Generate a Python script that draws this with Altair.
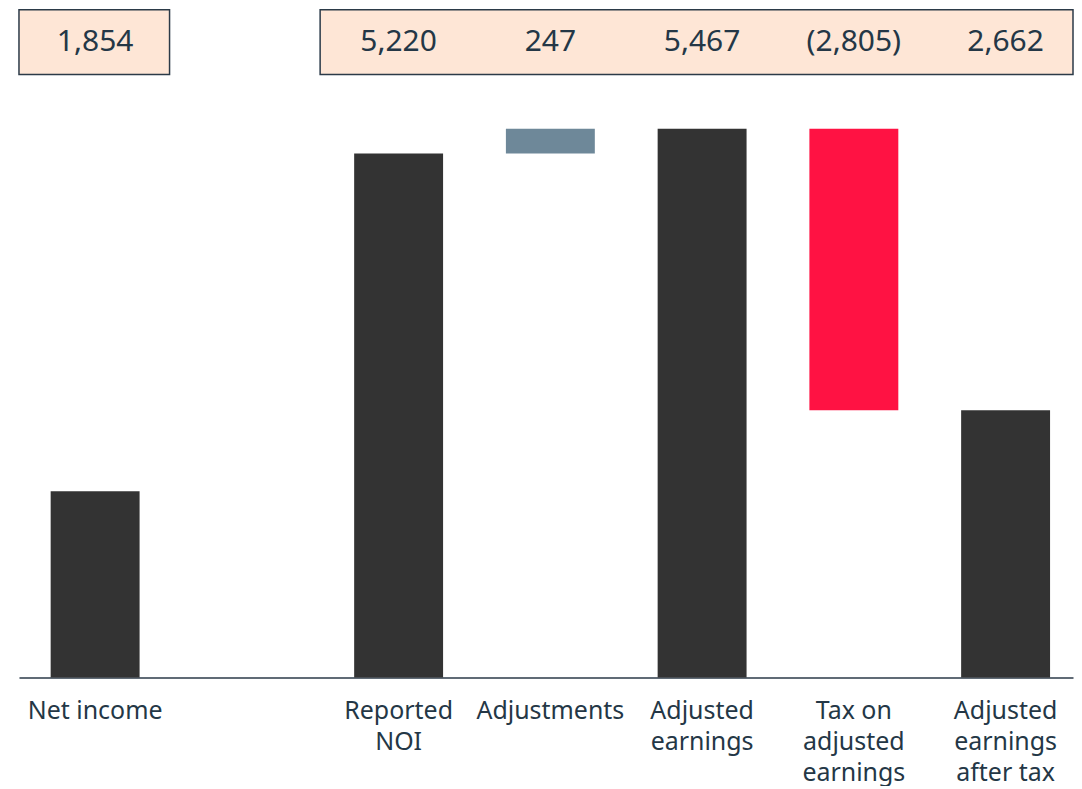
import altair as alt
import pandas as pd

# ---- data ----
categories = ["Net income", "Reported|NOI", "Adjustments", "Adjusted|earnings",
              "Tax on|adjusted|earnings", "Adjusted|earnings|after tax"]
values = [1854, 5220, 247, 5467, -2805, 2662]
kinds = ["total", "total", "delta", "total", "delta", "total"]
slot_order = ["Net income", "_", "Reported|NOI", "Adjustments", "Adjusted|earnings",
              "Tax on|adjusted|earnings", "Adjusted|earnings|after tax"]
box_start = [0, 2]
box_end = [1, 7]

rows = []
running = 0
for c, v, k in zip(categories, values, kinds):
    if k == "total":
        start, end = 0, v
        running = v
        typ = "total"
    else:
        start, end = running, running + v
        running = end
        typ = "up" if v >= 0 else "down"
    rows.append({"cat": c, "start": start, "end": end, "value": v, "type": typ})
df = pd.DataFrame(rows)
boxes = pd.DataFrame({"b0": box_start, "b1": box_end})

FONT = "Noto Sans"
TXT = "#243746"
W, H = 1056, 669

xscale = alt.Scale(domain=slot_order, paddingInner=0.414, paddingOuter=0.18, align=0.58)
yscale = alt.Scale(domain=[0, 6652], nice=False, zero=True)

xaxis = alt.Axis(title=None, ticks=False, domain=True, domainColor="#2b3a48", domainWidth=1.5,
                 labelAngle=0, labelFont=FONT, labelFontSize=25, labelColor=TXT,
                 labelPadding=21, labelBaseline="top", labelLineHeight=31, labelOverlap=False,
                 labelLimit=200,
                 labelExpr="datum.label == '_' ? '' : split(datum.label, '|')")

bars = alt.Chart(df).mark_bar().encode(
    x=alt.X("cat:N", scale=xscale, axis=xaxis, sort=slot_order),
    y=alt.Y("start:Q", scale=yscale, axis=None),
    y2="end:Q",
    color=alt.Color("type:N", scale=alt.Scale(domain=["total", "up", "down"],
                                              range=["#333333", "#6e8899", "#ff1243"]),
                    legend=None),
)

texts = alt.Chart(df).transform_calculate(
    lab="datum.value < 0 ? '(' + format(-datum.value, ',') + ')' : format(datum.value, ',')"
).mark_text(font=FONT, fontSize=30, color=TXT, baseline="middle", align="center").encode(
    x=alt.X("cat:N", scale=xscale, sort=slot_order),
    y=alt.value(32),
    text="lab:N",
)

main = alt.layer(bars, texts)

box_layer = alt.Chart(boxes).mark_rect(fill="#fee6d6", stroke="#2b3a48", strokeWidth=1.5).encode(
    x=alt.X("b0:Q", scale=alt.Scale(domain=[0, 7], nice=False, zero=False), axis=None),
    x2="b1:Q",
    y=alt.value(0),
    y2=alt.value(65),
)

chart = alt.layer(box_layer, main).resolve_scale(x="independent").properties(
    width=W, height=H, background="white",
    padding={"left": 10, "top": 0, "right": 0, "bottom": 0},
).configure_view(stroke=None, strokeWidth=0)

chart.save("out.html", embed_options={"renderer": "svg", "actions": False})
